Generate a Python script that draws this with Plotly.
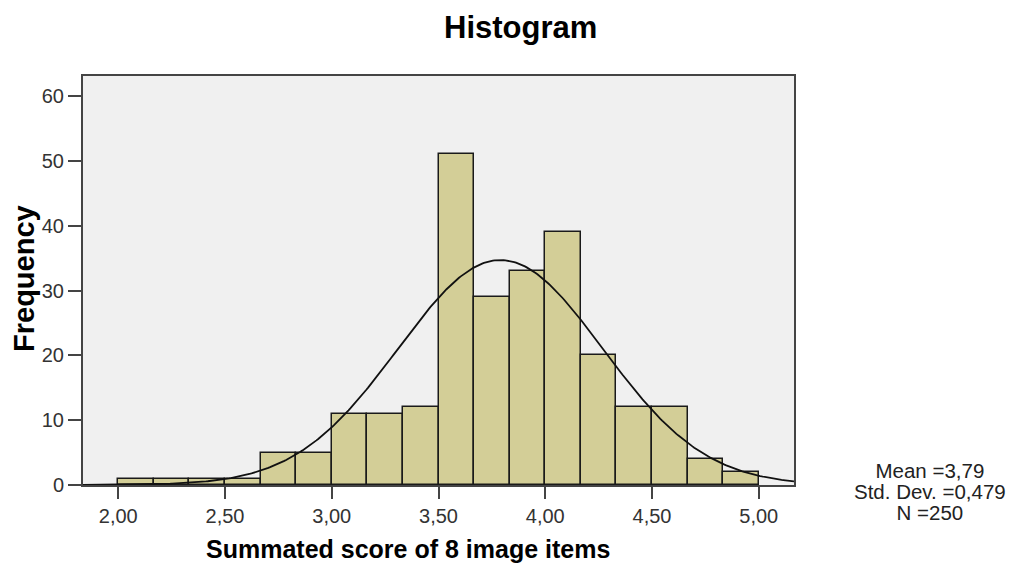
import numpy as np
import plotly.graph_objects as go

bin_edges_start = 2.0
bin_width = 1/6
counts = [1, 1, 1, 1, 5, 5, 11, 11, 12, 51, 29, 33, 39, 20, 12, 12, 4, 2]
mean_val = 3.79
sd_val = 0.479
n_val = 250
x_ticks = [2.0, 2.5, 3.0, 3.5, 4.0, 4.5, 5.0]
x_tick_labels = ["2,00", "2,50", "3,00", "3,50", "4,00", "4,50", "5,00"]
y_ticks = [0, 10, 20, 30, 40, 50, 60]
stats_lines = ["Mean =3,79", "Std. Dev. =0,479", "N =250"]

centers = [bin_edges_start + bin_width * (i + 0.5) for i in range(len(counts))]

x_range = [1.835, 5.165]
xs = np.linspace(x_range[0], x_range[1], 400)
ys = n_val * bin_width / (sd_val * np.sqrt(2 * np.pi)) * np.exp(-0.5 * ((xs - mean_val) / sd_val) ** 2)

fig = go.Figure()
fig.add_trace(go.Bar(x=centers, y=counts, width=bin_width,
                     marker=dict(color="#D3CE97", line=dict(color="#1a1a1a", width=1.5)),
                     hoverinfo="skip"))
fig.add_trace(go.Scatter(x=xs, y=ys, mode="lines",
                         line=dict(color="#111111", width=1.8), hoverinfo="skip"))

font_family = "Liberation Sans, Arial, sans-serif"
L, R, T, B = 83, 220, 76, 81
W, H = 1014, 566
pw = W - L - R
ph = H - T - B


def ann(text, px, py, size, color="#000000", angle=0, family=font_family):
    return dict(text=text, x=(px - L) / pw, y=(H - B - py) / ph,
                xref="paper", yref="paper", xanchor="center", yanchor="middle",
                showarrow=False, textangle=angle,
                font=dict(size=size, color=color, family=family))


stats_text = "<br>".join('<span style="font-size:20.5px">%s</span>' % s for s in stats_lines)

annotations = [
    ann("<b>Histogram</b>", 520, 27, 31),
    ann("<b>Summated score of 8 image items</b>", 408, 549, 25),
    ann("<b>Frequency</b>", 24, 279, 29, angle=-90),
    ann(stats_text, 930, 491, 16, color="#222222"),
]

fig.update_layout(
    width=W, height=H,
    margin=dict(l=L, r=R, t=T, b=B),
    paper_bgcolor="white", plot_bgcolor="#F0F0F0",
    showlegend=False,
    font=dict(family=font_family, color="#333333", size=20),
    bargap=0,
    xaxis=dict(range=x_range, tickvals=x_ticks, ticktext=x_tick_labels,
               showgrid=False, zeroline=False, showline=True, linecolor="#444444",
               linewidth=2, mirror=True, ticks="outside", ticklen=12, tickwidth=2,
               tickcolor="#444444", tickfont=dict(size=20, color="#333333")),
    yaxis=dict(range=[0, 63.1], tickvals=y_ticks,
               showgrid=False, zeroline=False, showline=True, linecolor="#444444",
               linewidth=2, mirror=True, ticks="outside", ticklen=13, tickwidth=2,
               tickcolor="#444444", tickfont=dict(size=20, color="#333333")),
    annotations=annotations,
)

fig.write_html("out.html")
